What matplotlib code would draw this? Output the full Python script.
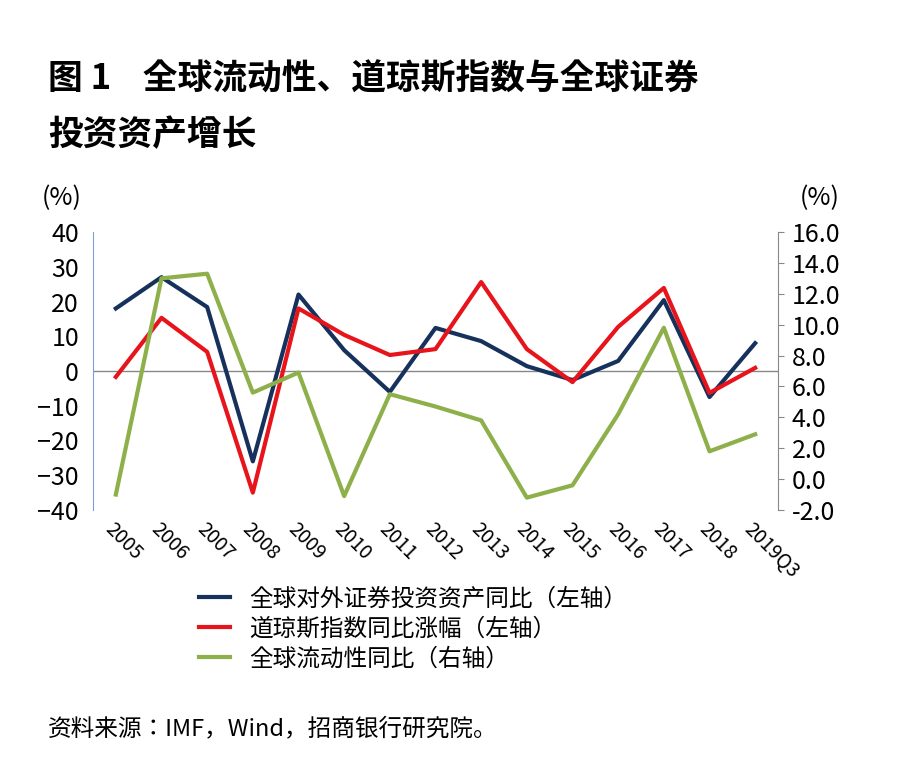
import matplotlib
matplotlib.use("Agg")
import matplotlib.pyplot as plt
from matplotlib import font_manager as fm

cjk = [f for f in fm.fontManager.ttflist if "CJK" in f.name and ("SC" in f.name or "JP" in f.name)]
cjk_name = cjk[0].name if cjk else "Noto Sans CJK SC"
plt.rcParams["font.family"] = [cjk_name, "DejaVu Sans"]

years = ["2005","2006","2007","2008","2009","2010","2011","2012","2013","2014","2015","2016","2017","2018","2019Q3"]
sec_assets = [18, 27, 18.4, -26, 22, 6, -6, 12.4, 8.6, 1.4, -2.6, 2.9, 20.4, -7.5, 8]
dow = [-1.7, 15.3, 5.5, -35, 18, 10.4, 4.6, 6.3, 25.6, 6.3, -3.2, 12.7, 23.9, -6.3, 0.9]
liquidity = [-1.0, 13.0, 13.3, 5.6, 6.9, -1.1, 5.5, 4.7, 3.8, -1.2, -0.4, 4.2, 9.8, 1.8, 2.9]

fig = plt.figure(figsize=(9, 7.62), dpi=100)
ax = fig.add_axes([93/900, 1-510/762, (778-93)/900, (510-232)/762])
ax2 = ax.twinx()
x = list(range(len(years)))
l1, = ax.plot(x, sec_assets, color="#16325c", lw=3, label="全球对外证券投资资产同比（左轴）")
l2, = ax.plot(x, dow, color="#e8141c", lw=3, label="道琼斯指数同比涨幅（左轴）")
l3, = ax2.plot(x, liquidity, color="#8db04a", lw=3, label="全球流动性同比（右轴）")
ax.axhline(0, color="#888888", lw=1, zorder=0)
ax.set_ylim(-40, 40)
ax.set_yticks(range(-40, 41, 10))
ax2.set_ylim(-2, 16)
ax2.set_yticks([-2,0,2,4,6,8,10,12,14,16])
ax2.set_yticklabels([f"{v:.1f}" for v in [-2,0,2,4,6,8,10,12,14,16]])
ax.set_xlim(-0.5, len(years)-0.5)
ax.set_xticks(x)
ax.set_xticklabels(years, rotation=-45, ha="left", rotation_mode="anchor", fontsize=14)
for a in (ax, ax2):
    for s in ("top", "bottom"):
        a.spines[s].set_visible(False)
ax.spines["right"].set_visible(False)
ax.spines["left"].set_color("#7aa0d0")
ax2.spines["left"].set_visible(False)
ax2.spines["right"].set_color("#888888")
ax.tick_params(axis="y", labelsize=18, length=0, pad=10)
ax2.tick_params(axis="y", labelsize=18, length=4, color="#888888", pad=6)
ax.tick_params(axis="x", length=0, pad=6)
fig.text(42/900, 1-205/762, "(%)", fontsize=18)
fig.text(800/900, 1-205/762, "(%)", fontsize=18)
fig.text(48/900, 1-90/762, "图 1    全球流动性、道琼斯指数与全球证券", fontsize=25, fontweight="bold")
fig.text(48/900, 1-145/762, "投资资产增长", fontsize=25, fontweight="bold")
fig.legend(handles=[l1, l2, l3], loc="upper left", bbox_to_anchor=(190/900, 1-578/762),
           frameon=False, fontsize=17, handlelength=1.3, labelspacing=0.3, borderaxespad=0)
fig.text(48/900, 1-735/762, "资料来源：IMF，Wind，招商银行研究院。", fontsize=17)
fig.savefig("out.png", dpi=100)
